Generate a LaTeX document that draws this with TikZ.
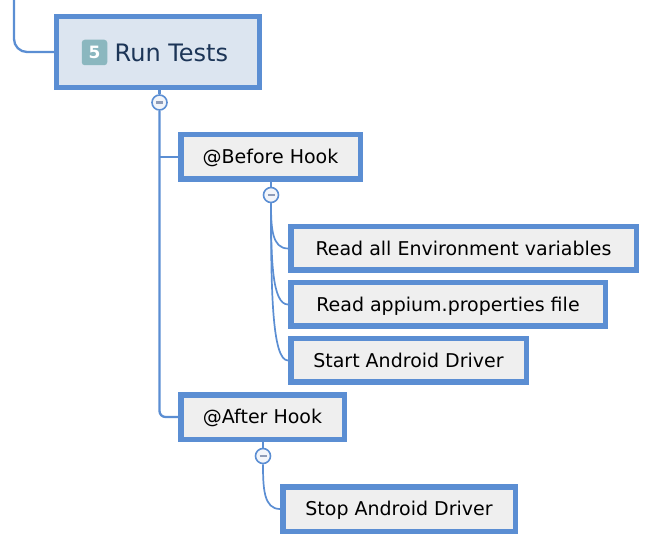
\documentclass[tikz,border=0pt]{standalone}
\usepackage{fontspec}
\setmainfont{DejaVu Sans}
\usetikzlibrary{calc}
\definecolor{edgeblue}{HTML}{5B8ED3}
\definecolor{boxgray}{HTML}{EFEFEF}
\definecolor{rootfill}{HTML}{DCE5F0}
\definecolor{navy}{HTML}{1C3557}
\definecolor{badgefill}{HTML}{8BB7BF}
\definecolor{minusgray}{HTML}{8E9CB8}
\definecolor{circfill}{HTML}{F2F5FA}
\begin{document}
\begin{tikzpicture}[x=1pt,y=-1pt,
 topicbox/.style={draw=edgeblue, line width=5.5pt, fill=boxgray, inner sep=0pt,
   font=\fontsize{19}{22}\selectfont, text height=13.9pt, text depth=0pt},
 rootbox/.style={draw=edgeblue, line width=5pt, fill=rootfill, inner sep=0pt},
 link/.style={draw=edgeblue, line width=2.3pt},
 curvelink/.style={draw=edgeblue, line width=1.7pt},
 toggle/.style={circle, draw=edgeblue, line width=1.6pt, fill=circfill,
   minimum size=15pt, inner sep=0pt,
   path picture={\draw[minusgray, line width=2.2pt]
     ($(path picture bounding box.center)+(-3.5pt,0)$) --
     ($(path picture bounding box.center)+(3.5pt,0)$);}}
]
\path[use as bounding box] (0,0) rectangle (654,548);

% root
\node[rootbox, minimum width=203pt, minimum height=71pt] (rt) at (158,52) {};
\node[fill=badgefill, rounded corners=3pt, minimum size=25.5pt, inner sep=0pt,
      text=white, font=\fontsize{17}{17}\selectfont\bfseries] (badge) at (94.5,52.5) {5};
\node[anchor=base west, inner sep=0pt, text=navy, font=\fontsize{24}{28}\selectfont]
      (title) at (114.5,61.7) {Run Tests};

% topics
\node[topicbox, minimum width=179.5pt, minimum height=44.5pt] (bh) at (270.5,157) {@Before Hook};
\node[topicbox, minimum width=345.5pt, minimum height=43.5pt] (env) at (463.5,248.5) {Read all Environment variables};
\node[topicbox, minimum width=314.5pt, minimum height=43.5pt] (prop) at (448,304.5) {Read appium.properties file};
\node[topicbox, minimum width=235.5pt, minimum height=43.5pt] (start) at (408.5,360.5) {Start Android Driver};
\node[topicbox, minimum width=163.5pt, minimum height=44.5pt] (ah) at (262.5,417) {@After Hook};
\node[topicbox, minimum width=232.5pt, minimum height=44.5pt] (stop) at (399,509) {Stop Android Driver};

% toggles
\node[toggle] (t1) at (159.5,102.5) {};
\node[toggle] (t2) at (271,195) {};
\node[toggle] (t3) at (263,456) {};

% connectors
\coordinate (top) at (14,-1);
\draw[link, rounded corners=13pt] (top) |- (rt.west);
\draw[link] (t1.north |- rt.south) -- (t1.north);
\draw[link, rounded corners=6pt] (t1.south) |- (ah.west);
\draw[link] (t1.south |- bh.west) -- (bh.west);

\draw[link] (t2.north |- bh.south) -- (t2.north);
\foreach \n in {env,prop,start}{
  \draw[curvelink] (t2.south) .. controls ($(t2.south)!0.55!(t2.south |- \n.west)$)
     and ($(t2.south |- \n.west)+(1pt,0)$) .. (\n.west);
}

\draw[link] (t3.north |- ah.south) -- (t3.north);
\draw[curvelink] (t3.south) .. controls ($(t3.south)!0.55!(t3.south |- stop.west)$)
     and ($(t3.south |- stop.west)+(1pt,0)$) .. (stop.west);
\end{tikzpicture}
\end{document}
